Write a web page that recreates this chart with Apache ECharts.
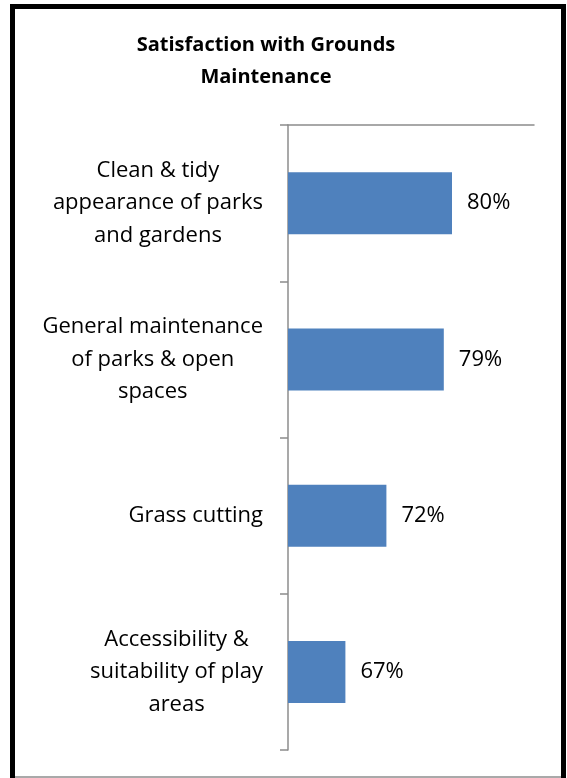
<!DOCTYPE html>
<html>
<head>
<meta charset="utf-8">
<script src="https://cdn.jsdelivr.net/npm/echarts@6/dist/echarts.min.js"></script>
<style>
html,body{margin:0;padding:0;background:#fff;}
#chart{width:567px;height:778px;}
</style>
</head>
<body>
<div id="chart"></div>
<script>
var titleText = 'Satisfaction with Grounds\nMaintenance';
var categories = [
  'Clean & tidy\nappearance of parks\nand gardens',
  'General maintenance\nof parks & open\nspaces',
  'Grass cutting',
  'Accessibility &\nsuitability of play\nareas'
];
var values = [80, 79, 72, 67];
var axisMin = 60;
var axisMax = 90;

var FONT = 'Open Sans';
var chart = echarts.init(document.getElementById('chart'));
chart.setOption({
  animation: false,
  backgroundColor: '#fff',
  title: {
    text: titleText,
    left: 261,
    textAlign: 'center',
    top: 24,
    textStyle: { fontFamily: FONT, fontSize: 20, fontWeight: 'bold', color: '#000', lineHeight: 32 }
  },
  grid: { left: 288, right: 33, top: 125, bottom: 28, containLabel: false },
  xAxis: {
    type: 'value', position: 'top', min: axisMin, max: axisMax,
    axisLine: { show: true, lineStyle: { color: '#8c8c8c', width: 1.5 } },
    axisTick: { show: false }, axisLabel: { show: false }, splitLine: { show: false }
  },
  yAxis: {
    type: 'category', inverse: true, data: categories,
    axisLine: { show: true, lineStyle: { color: '#8c8c8c', width: 1.5 } },
    axisTick: { show: true, length: 8, lineStyle: { color: '#8c8c8c', width: 1.5 } },
    axisLabel: {
      margin: 25,
      formatter: function (v) {
        return v.split('\n').map(function (s) { return '{c|' + s + '}'; }).join('\n');
      },
      rich: { c: { align: 'center', fontFamily: FONT, fontSize: 22, lineHeight: 32.5, color: '#000' } }
    }
  },
  series: [{
    type: 'bar', data: values, barWidth: 62,
    itemStyle: { color: '#4F81BD' },
    label: {
      show: true, position: 'right', distance: 15,
      formatter: function (p) { return p.value + '%'; },
      fontFamily: FONT, fontSize: 22, color: '#000'
    }
  }],
  graphic: [
    { type: 'rect', shape: { x: 12.5, y: 6.5, width: 551, height: 790 }, style: { fill: 'none', stroke: '#000', lineWidth: 5 }, z: 100 },
    { type: 'line', shape: { x1: 15, y1: 777, x2: 561, y2: 777 }, style: { stroke: '#8c8c8c', lineWidth: 1.5 }, z: 100 }
  ]
});
</script>
</body>
</html>
